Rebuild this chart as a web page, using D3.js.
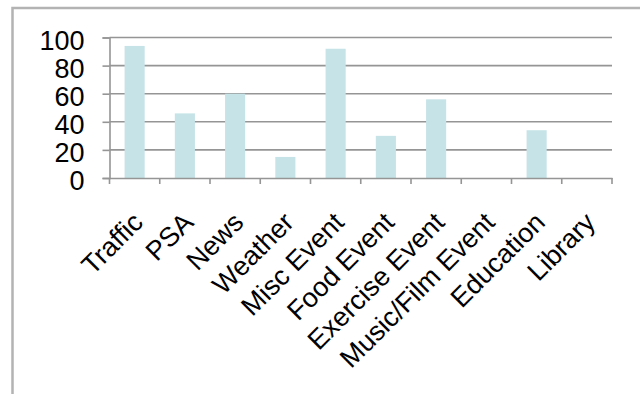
<!DOCTYPE html>
<html>
<head>
<meta charset="utf-8">
<script src="https://cdn.jsdelivr.net/npm/d3@7"></script>
<style>
body { margin: 0; background: #fff; }
svg { display: block; }
</style>
</head>
<body>
<script>
var categories = ["Traffic", "PSA", "News", "Weather", "Misc Event", "Food Event",
                  "Exercise Event", "Music/Film Event", "Education", "Library"];
var counts = [94, 46, 60, 15, 92, 30, 56, 0, 34, 0];
var yTicks = [0, 20, 40, 60, 80, 100];

var width = 640,
    height = 394;
var plotLeft = 109.5, plotRight = 612, plotTop = 37.5, plotBottom = 178;

var svg = d3.select('body')
    .append('svg')
    .attr('width', width)
    .attr('height', height)
    .style('font-family', '"Liberation Sans", Arial, sans-serif');

// outer frame (runs off the right and bottom edges)
svg.append('path')
    .attr('d', 'M12.5,' + (height + 5) + 'V8H' + (width + 5))
    .attr('fill', 'none')
    .attr('stroke', '#b3b3b3')
    .attr('stroke-width', 2.5);

var x = d3.scaleBand()
    .domain(categories)
    .range([plotLeft, plotRight])
    .paddingInner(0.6)
    .paddingOuter(0.3);

var xOuter = d3.scaleBand()
    .domain(categories)
    .range([plotLeft, plotRight]);

var y = d3.scaleLinear()
    .domain([0, 100])
    .range([plotBottom, plotTop]);

// gridlines
svg.append('g')
    .selectAll('line')
    .data(yTicks.filter(function(d) { return d > 0; }))
    .enter()
    .append('line')
    .attr('x1', plotLeft)
    .attr('x2', plotRight)
    .attr('y1', function(d) { return y(d); })
    .attr('y2', function(d) { return y(d); })
    .attr('stroke', '#959595')
    .attr('stroke-width', 1.6);

// y axis
var yAxis = svg.append('g')
    .attr('transform', 'translate(' + plotLeft + ',0)')
    .call(d3.axisLeft(y).tickValues(yTicks).tickSize(7).tickPadding(18));
yAxis.select('.domain').attr('stroke', '#959595').attr('stroke-width', 1.6);
yAxis.selectAll('.tick line').attr('stroke', '#959595').attr('stroke-width', 1.6);
yAxis.selectAll('.tick text')
    .attr('font-size', 27)
    .attr('fill', '#000')
    .attr('dy', '0.44em');

// bars
svg.append('g')
    .selectAll('rect')
    .data(counts)
    .enter()
    .append('rect')
    .attr('x', function(d, i) { return x(categories[i]); })
    .attr('width', x.bandwidth())
    .attr('y', function(d) { return y(d); })
    .attr('height', function(d) { return plotBottom - y(d); })
    .attr('fill', '#c6e4e8');

// x axis: line, boundary ticks, labels
var xAxis = svg.append('g')
    .attr('transform', 'translate(0,' + plotBottom + ')')
    .call(d3.axisBottom(xOuter).tickSize(0).tickSizeOuter(0));
xAxis.select('.domain').attr('stroke', '#959595').attr('stroke-width', 1.6);

var bounds = categories.map(function(c) { return xOuter(c); }).concat([plotRight]);
xAxis.selectAll('line.bound')
    .data(bounds)
    .enter()
    .append('line')
    .attr('class', 'bound')
    .attr('x1', function(d) { return d; })
    .attr('x2', function(d) { return d; })
    .attr('y1', 0)
    .attr('y2', 6)
    .attr('stroke', '#959595')
    .attr('stroke-width', 1.6);

xAxis.selectAll('.tick text')
    .attr('font-size', 27)
    .attr('fill', '#000')
    .attr('x', 0)
    .attr('y', 0)
    .attr('dy', 0)
    .attr('text-anchor', 'end')
    .attr('transform', 'translate(10,46) rotate(-45)');
</script>
</body>
</html>
